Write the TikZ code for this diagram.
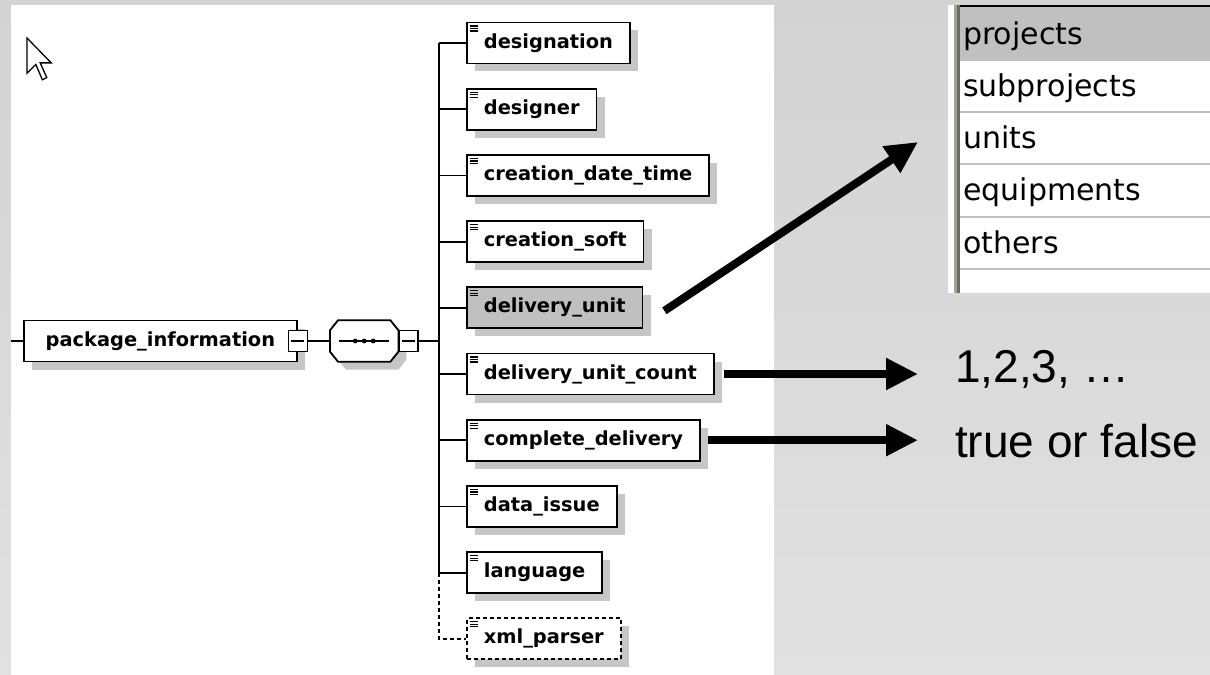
\documentclass[tikz,border=0pt]{standalone}
\usepackage{fontspec}
\newfontfamily\schemafont{DejaVu Sans}
\newfontfamily\notefont{Liberation Sans}
\usetikzlibrary{arrows.meta,positioning,shadows,calc}
\definecolor{bgtop}{HTML}{D3D3D3}
\definecolor{bgbot}{HTML}{E1E1E1}
\definecolor{shade}{HTML}{C6C6C6}
\definecolor{sel}{HTML}{C0C0C0}
\definecolor{rule}{HTML}{C0C0C0}
\definecolor{grip}{HTML}{A3A293}
\definecolor{gripdark}{HTML}{6C6B5C}
\tikzset{
  xsdbox/.style={
    draw, line width=1.8bp, fill=white,
    minimum height=41bp, inner xsep=17bp, inner ysep=0bp,
    font=\schemafont\bfseries\fontsize{19.4bp}{23bp}\selectfont,
    drop shadow={shadow xshift=8bp, shadow yshift=-8bp, fill=shade, opacity=1}
  },
  elem/.style={
    xsdbox,
    path picture={
      \foreach \d in {3.5,6,8.5}
        \draw[line width=1.2bp, solid]
          ([xshift=3bp,yshift=-\d bp]path picture bounding box.north west) -- ++(8bp,0bp);
    }
  },
  fold/.style={
    draw, line width=1.4bp, fill=white, inner sep=0pt,
    minimum width=19bp, minimum height=21bp,
    path picture={
      \draw[line width=1.4bp]
        ([xshift=3bp]path picture bounding box.west) -- ([xshift=-3bp]path picture bounding box.east);
    }
  },
  seqbox/.style={inner sep=0pt, minimum width=68bp, minimum height=41bp},
  wire/.style={line width=1.8bp},
  bigarrow/.style={line width=8bp, -{Triangle[length=32bp,width=30bp]}},
  rowtext/.style={anchor=base west, inner sep=0pt, font=\schemafont\fontsize{30bp}{36bp}\selectfont},
  note/.style={anchor=base west, inner sep=0pt, font=\notefont\fontsize{46bp}{54bp}\selectfont}
}
\begin{document}
\begin{tikzpicture}[x=1bp, y=-1bp]
  \useasboundingbox (0,0) rectangle (1210,675);
  \shade[top color=bgtop, bottom color=bgbot] (0,0) rectangle (1210,675);
  \fill[white] (11,5) rectangle (774,675);

  % mouse pointer
  \draw[line width=1.3bp, fill=white, line join=miter, shift={(27,38)}, scale=2.2]
    (0,0) -- (0,16) -- (4,12) -- (7,19) -- (9,18) -- (6,11.3) -- (11,11.3) -- cycle;

  % root element and sequence compositor
  \coordinate (rootin) at (11,341);
  \node[xsdbox, minimum width=273bp, anchor=west] (pkg) at (23,341) {package\_information};
  \node[fold] (pkgc) at (pkg.east) {};
  \node[seqbox, right=22bp of pkgc] (seq) {};
  \draw[wire, fill=white, drop shadow={shadow xshift=8bp, shadow yshift=-8bp, fill=shade, opacity=1}]
    ([xshift=8bp]seq.north west) -- ([xshift=-8bp]seq.north east)
    -- ([yshift=-10bp]seq.north east) -- ([yshift=10bp]seq.south east)
    -- ([xshift=-8bp]seq.south east) -- ([xshift=8bp]seq.south west)
    -- ([yshift=10bp]seq.south west) -- ([yshift=-10bp]seq.north west) -- cycle;
  \node[fold, right=0bp of seq] (seqc) {};
  \coordinate[right=20bp of seqc] (trunk);
  \draw[wire] ([xshift=9bp]seq.west) -- ([xshift=-9bp]seq.east);
  \foreach \dx in {-9,0,9}
    \fill ([xshift=\dx bp]seq.center) circle (2.4bp);

  % child elements
  \node[elem, anchor=west] (desig) at (466,43) {designation};
  \node[elem, below=23.4bp of desig.south west, anchor=north west] (designer) {designer};
  \node[elem, below=23.4bp of designer.south west, anchor=north west] (cdate) {creation\_date\_time};
  \node[elem, below=23.4bp of cdate.south west, anchor=north west] (csoft) {creation\_soft};
  \node[elem, fill=sel, below=23.4bp of csoft.south west, anchor=north west] (unit) {delivery\_unit};
  \node[elem, below=23.4bp of unit.south west, anchor=north west] (count) {delivery\_unit\_count};
  \node[elem, below=23.4bp of count.south west, anchor=north west] (complete) {complete\_delivery};
  \node[elem, below=23.4bp of complete.south west, anchor=north west] (issue) {data\_issue};
  \node[elem, below=23.4bp of issue.south west, anchor=north west] (lang) {language};
  \node[elem, dash pattern=on 4bp off 3bp, below=23.4bp of lang.south west, anchor=north west] (xmlp) {xml\_parser};

  \draw[wire] (rootin) -- (pkg.west);
  \draw[wire] (pkgc.east) -- (seq.west);
  \draw[wire] (seqc.east) -- (trunk);
  \draw[wire] (trunk |- desig.west) -- (trunk |- lang.west);
  \foreach \n in {desig,designer,cdate,csoft,unit,count,complete,issue,lang}
    \draw[wire] (trunk |- \n.west) -- (\n.west);
  \draw[wire, dash pattern=on 4bp off 3bp] (trunk |- lang.west) |- (xmlp.west);

  % enumeration list
  \fill[white] (948,5) rectangle (1210,293);
  \fill[sel] (958,7) rectangle (1210,61);
  \fill[black] (958,5) rectangle (1210,7.5);
  \fill[grip] (953.5,5) rectangle (957,293);
  \fill[gripdark] (957,5) rectangle (960,293);
  \foreach \y in {112,164,217,269}
    \fill[rule] (960,\y-1.3) rectangle (1210,\y+1.3);
  \node[rowtext] (r1) at (963,45) {projects};
  \node[rowtext] (r2) at (963,97) {subprojects};
  \node[rowtext] (r3) at (963,149) {units};
  \node[rowtext] (r4) at (963,201) {equipments};
  \node[rowtext] (r5) at (963,253) {others};

  % value hints
  \node[note] (nums) at (955,382) {1,2,3, …};
  \node[note] (bool) at (955,457) {true or false};
  \coordinate (listtip) at (918,142);
  \coordinate (numstip) at (918,370);
  \coordinate (booltip) at (918,445);
  \draw[bigarrow] ([xshift=21bp,yshift=-3bp]unit.east) -- (listtip);
  \draw[bigarrow] ([xshift=9bp]count.east) -- (count.east -| numstip);
  \draw[bigarrow] ([xshift=7bp]complete.east) -- (complete.east -| booltip);
\end{tikzpicture}
\end{document}
